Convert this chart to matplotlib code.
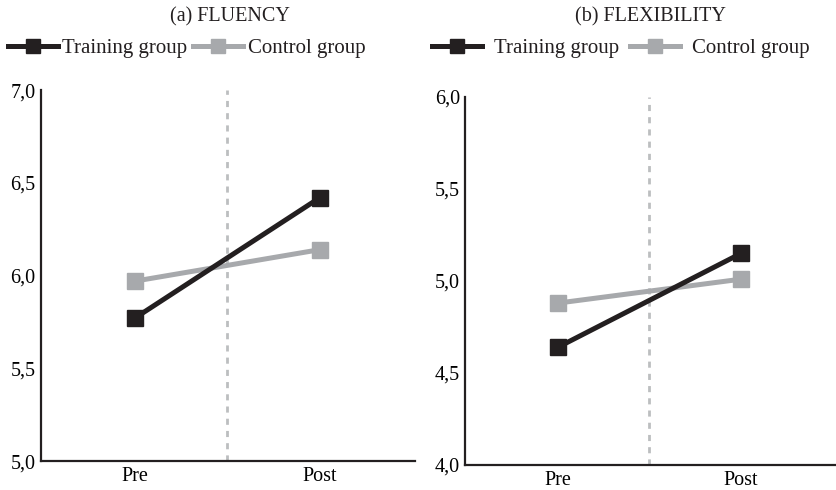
import numpy as np
import matplotlib
matplotlib.use('Agg')
import matplotlib.pyplot as plt

plt.rcParams['font.family'] = ['Liberation Serif', 'DejaVu Serif']

phases = ['Pre', 'Post']

fluency_training = [5.77, 6.42]
fluency_control = [5.97, 6.14]
fluency_ticks = [5.0, 5.5, 6.0, 6.5, 7.0]

flex_training = [4.64, 5.15]
flex_control = [4.88, 5.01]
flex_ticks = [4.0, 4.5, 5.0, 5.5, 6.0]

black = '#231f20'
grey = '#a7a9ac'

fig = plt.figure(figsize=(8.37, 4.90), dpi=100)
ax1 = fig.add_axes([0.049, 0.059, 0.447, 0.757])
ax2 = fig.add_axes([0.556, 0.051, 0.442, 0.751])


def panel(ax, train, ctrl, ticks, title, tx, leg_x, tpad, cspace):
    x = np.arange(len(phases))
    ax.axvline(0.5, color='#bcbec0', lw=2, ls=(0, (2.2, 2.2)), zorder=1)
    ax.plot(x, ctrl, color=grey, lw=3.6, marker='s', ms=12, mec=grey,
            label='Control group', zorder=3)
    ax.plot(x, train, color=black, lw=3.6, marker='s', ms=12, mec=black,
            label='Training group', zorder=4)
    ax.set_xlim(-0.505, 1.515)
    ax.set_ylim(ticks[0], ticks[-1])
    ax.set_yticks(ticks)
    ax.set_yticklabels([('%.1f' % t).replace('.', ',') for t in ticks], fontsize=14.5)
    ax.set_xticks(x)
    ax.set_xticklabels(phases, fontsize=14.5)
    ax.tick_params(length=0, pad=4)
    for s in ['top', 'right']:
        ax.spines[s].set_visible(False)
    for s in ['left', 'bottom']:
        ax.spines[s].set_linewidth(1.6)
        ax.spines[s].set_color(black)
    fig.text(tx, 0.965, title, ha='center', va='center', fontsize=14.5, color=black)
    h, l = ax.get_legend_handles_labels()
    fig.legend(h[::-1], l[::-1], loc='center left', bbox_to_anchor=(leg_x, 0.902),
               ncol=2, frameon=False, fontsize=15, handlelength=2.4,
               markerscale=0.8, handletextpad=tpad, columnspacing=cspace,
               borderaxespad=0, borderpad=0, labelcolor=black)


panel(ax1, fluency_training, fluency_control, fluency_ticks, '(a) FLUENCY', 0.275, 0.009, 0.2, 0.32)
panel(ax2, flex_training, flex_control, flex_ticks, '(b) FLEXIBILITY', 0.777, 0.516, 0.6, 0.5)

fig.savefig('out.png', dpi=100)
